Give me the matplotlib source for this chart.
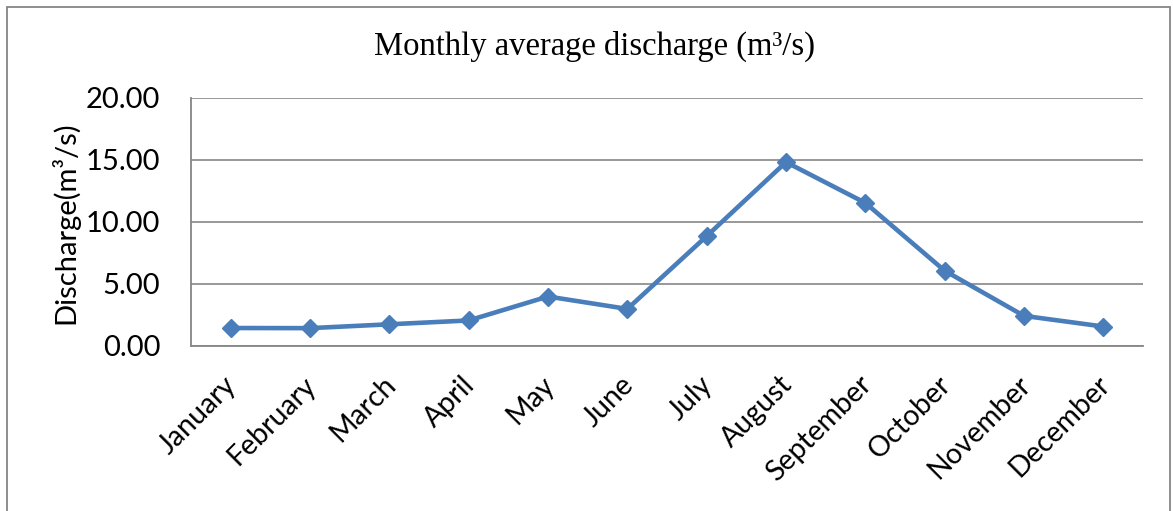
import matplotlib
matplotlib.use("Agg")
import matplotlib.pyplot as plt
from matplotlib.patches import Rectangle
from matplotlib.transforms import ScaledTranslation

months = ["January", "February", "March", "April", "May", "June", "July",
          "August", "September", "October", "November", "December"]
discharge = [1.45, 1.44, 1.75, 2.06, 3.99, 2.99, 8.86, 14.83, 11.54, 6.07, 2.43, 1.57]
yticks = [0, 5, 10, 15, 20]
ytick_labels = ["0.00", "5.00", "10.00", "15.00", "20.00"]

W, H = 1173, 511
fig = plt.figure(figsize=(W / 100, H / 100), dpi=100)
fig.patch.set_facecolor("white")

grid_color = "#868686"
line_color = "#4A7EBB"
sans = ["Lato", "DejaVu Sans"]
serif = ["Liberation Serif", "DejaVu Serif"]

# outer chart frame
fig.patches.append(Rectangle((7 / W, -0.05), (1170 - 7) / W, 1 - 7 / H + 0.05,
                             transform=fig.transFigure, fill=False,
                             edgecolor=grid_color, linewidth=1.3))

left, right, top, bottom = 191, 1143, 98, 346
ax = fig.add_axes([left / W, 1 - bottom / H, (right - left) / W, (bottom - top) / H])

x = list(range(len(months)))
ax.plot(x, discharge, color=line_color, linewidth=3.3, marker="D",
        markersize=9.5, markerfacecolor=line_color, markeredgecolor=line_color,
        zorder=3, clip_on=False)

ax.set_xlim(-0.5, len(months) - 0.5)
ax.set_ylim(0, 20)
ax.set_yticks(yticks)
ax.set_yticklabels(ytick_labels, fontfamily=sans, fontsize=21)
ax.yaxis.grid(True, color=grid_color, linewidth=1.2)
ax.set_axisbelow(True)
ax.tick_params(axis="y", length=0, pad=22)
ax.tick_params(axis="x", length=0, pad=25)

ax.set_xticks(x)
ax.set_xticklabels(months, fontfamily=sans, fontsize=20.5, rotation=45,
                   ha="right", va="center", rotation_mode="anchor")
offset = ScaledTranslation(2 / 100, 0, fig.dpi_scale_trans)
for lab in ax.get_xticklabels():
    lab.set_transform(lab.get_transform() + offset)

for s in ["top", "right"]:
    ax.spines[s].set_visible(False)
for s in ["left", "bottom"]:
    ax.spines[s].set_color(grid_color)
    ax.spines[s].set_linewidth(1.3)

fig.text(594 / W, 1 - 46 / H, "Monthly average discharge (m³/s)",
         fontfamily=serif, fontsize=23.5, ha="center", va="center")
fig.text(65 / W, 1 - 223 / H, "Discharge(m³/s)", fontfamily=sans,
         fontsize=21, rotation=90, ha="center", va="center")

fig.savefig("out.png", dpi=100, facecolor="white")
